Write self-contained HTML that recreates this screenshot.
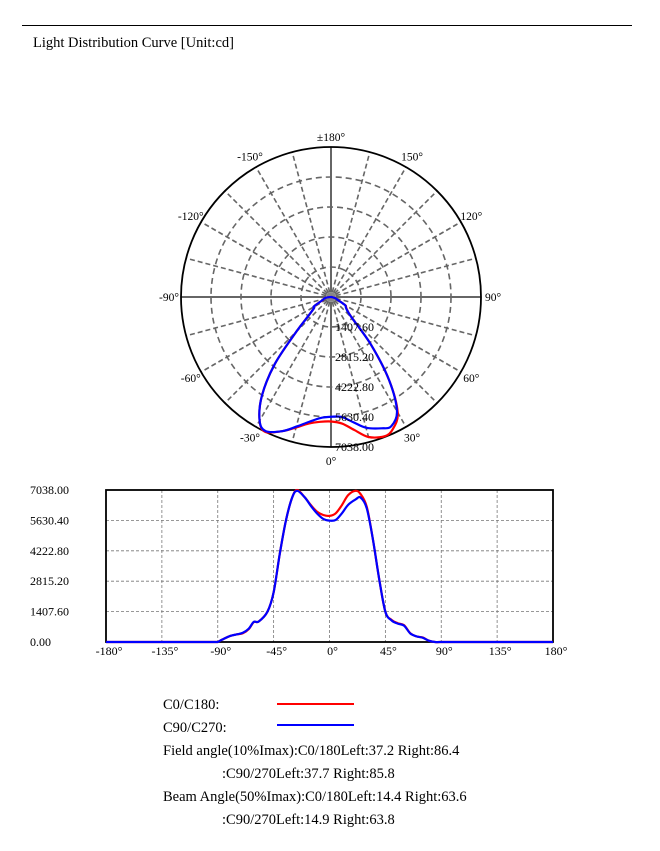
<!DOCTYPE html>
<html><head><meta charset="utf-8"><style>
body{margin:0;background:#fff;width:660px;height:846px;overflow:hidden;font-family:"Liberation Serif",serif;}
svg text{font-family:"Liberation Serif",serif;}
</style></head><body>
<svg id="s" width="660" height="846">
<line x1="22" y1="25.5" x2="632" y2="25.5" stroke="#000" stroke-width="1"/>
<text x="33" y="47" font-size="14.5">Light Distribution Curve [Unit:cd]</text>
<g id="polar"></g>
<g id="lin"></g>
<g font-size="14.5">
<text x="163" y="709">C0/C180:</text>
<line x1="277" y1="704" x2="354" y2="704" stroke="#f00" stroke-width="2"/>
<text x="163" y="732">C90/C270:</text>
<line x1="277" y1="725" x2="354" y2="725" stroke="#00f" stroke-width="2"/>
<text x="163" y="755">Field angle(10%Imax):C0/180Left:37.2 Right:86.4</text>
<text x="222" y="778">:C90/270Left:37.7 Right:85.8</text>
<text x="163" y="801">Beam Angle(50%Imax):C0/180Left:14.4 Right:63.6</text>
<text x="222" y="824">:C90/270Left:14.9 Right:63.8</text>
</g>
</svg>
<script>
const angles=[-90,-85,-80,-75,-70,-65,-61,-57,-50,-45,-40,-35,-30,-26,-20,-15,-10,-5,0,5,10,15,21,25,30,35,40,45,50,55,60,65,70,75,80,85,90];
const c0Values=[0,150,280,350,400,600,920,950,1400,2300,4100,5650,6700,7038,6700,6340,6030,5880,5840,5960,6340,6800,7000,6850,6260,4740,2920,1400,1020,870,780,410,260,210,60,0,0];
const c90Values=[0,150,280,350,420,620,930,950,1400,2300,4100,5650,6700,7000,6700,6300,5950,5700,5620,5650,5960,6350,6600,6690,6190,4740,2920,1400,1000,850,760,400,260,200,60,0,0];
const ringLabels=["1407.60","2815.20","4222.80","5630.40","7038.00"];
const yTickLabels=["0.00","1407.60","2815.20","4222.80","5630.40","7038.00"];
const xTickLabels=["-180°","-135°","-90°","-45°","0°","45°","90°","135°","180°"];
const angleLabels=[["±180°",180],["-150°",-150],["150°",150],["-120°",-120],["120°",120],["-90°",-90],["90°",90],["-60°",-60],["60°",60],["-30°",-30],["30°",30],["0°",0]];
const vmax=7038;
const NS="http://www.w3.org/2000/svg";
function mk(p,t,a){const e=document.createElementNS(NS,t);for(const k in a)e.setAttribute(k,a[k]);p.appendChild(e);return e;}
function spline(pts){let d="M"+pts[0][0].toFixed(2)+","+pts[0][1].toFixed(2);
for(let i=0;i<pts.length-1;i++){const p0=pts[Math.max(0,i-1)],p1=pts[i],p2=pts[i+1],p3=pts[Math.min(pts.length-1,i+2)];
const c1=[p1[0]+(p2[0]-p0[0])/6,p1[1]+(p2[1]-p0[1])/6],c2=[p2[0]-(p3[0]-p1[0])/6,p2[1]-(p3[1]-p1[1])/6];
d+="C"+c1.map(v=>v.toFixed(2))+" "+c2.map(v=>v.toFixed(2))+" "+p2[0].toFixed(2)+","+p2[1].toFixed(2);}return d;}
// polar
const P=document.getElementById('polar');const cx=331,cy=297,R=150;
function rOf(v){return v/vmax*R;}
function pxy(a,v){const t=a*Math.PI/180,r=rOf(v);return [cx+r*Math.sin(t),cy+r*Math.cos(t)];}
for(let a=0;a<360;a+=15){const t=a*Math.PI/180;const l=mk(P,'line',{x1:cx+5*Math.sin(t),y1:cy+5*Math.cos(t),x2:cx+R*Math.sin(t),y2:cy+R*Math.cos(t),stroke:'#666','stroke-width':a%90==0?2:1.6,'stroke-dasharray':a%90==0?'none':'5,3'});
}
for(let i=1;i<5;i++){const c=mk(P,'circle',{cx:cx,cy:cy,r:rOf(vmax*i/5),fill:'none',stroke:'#666','stroke-width':1.6,'stroke-dasharray':'6,4'});
}
mk(P,'circle',{cx:cx,cy:cy,r:5,fill:'#888'});
const oc=mk(P,'circle',{cx:cx,cy:cy,r:R,fill:'none',stroke:'#000','stroke-width':1.8});

function polarPath(vals,col,name){const pts=[[cx,cy]];angles.forEach((a,i)=>pts.push(pxy(a,vals[i])));pts.push([cx,cy]);
const p=mk(P,'path',{d:spline(pts),fill:'none',stroke:col,'stroke-width':2.2});}
polarPath(c0Values,'#f00','polar-c0-curve');polarPath(c90Values,'#00f','polar-c90-curve');
ringLabels.forEach((s,i)=>{const t=mk(P,'text',{x:cx+4,y:cy+rOf(vmax*(i+1)/5)+4,'font-size':12});t.textContent=s;
});
angleLabels.forEach(([s,a])=>{const t0=a*Math.PI/180,r=R+12;let x=cx+r*Math.sin(t0),y=cy+r*Math.cos(t0)+4;if(a==0)y+=2;if(Math.abs(a)==180)y=cy-R-6;
const t=mk(P,'text',{x:x,y:y,'font-size':11.5,'text-anchor':'middle'});t.textContent=s;});
// linear
const L=document.getElementById('lin');const x0=106,x1=553,y0=642,y1=490;
function X(a){return x0+(a+180)/360*(x1-x0);}function Y(v){return y0-v/vmax*(y0-y1);}
for(let i=1;i<8;i++){const g=mk(L,'line',{x1:X(-180+45*i),y1:y1,x2:X(-180+45*i),y2:y0,stroke:'#777','stroke-dasharray':'3,2','stroke-width':0.8});}
for(let i=1;i<5;i++){const g=mk(L,'line',{x1:x0,y1:Y(vmax*i/5),x2:x1,y2:Y(vmax*i/5),stroke:'#777','stroke-dasharray':'3,2','stroke-width':0.8});}
const bx=mk(L,'rect',{x:x0,y:y1,width:x1-x0,height:y0-y1,fill:'none',stroke:'#000','stroke-width':1.8});
yTickLabels.forEach((s,i)=>{const t=mk(L,'text',{x:30,y:Y(vmax*i/5)+4,'font-size':12});t.textContent=s;});
xTickLabels.forEach((s,i)=>{const t=mk(L,'text',{x:X(-180+45*i)+3,y:655,'font-size':12,'text-anchor':'middle'});t.textContent=s;});
function linPath(vals,col,name){const pts=[[X(-180),Y(0)]];angles.forEach((a,i)=>pts.push([X(a),Y(vals[i])]));pts.push([X(180),Y(0)]);
const p=mk(L,'path',{d:"M"+pts[0]+"L"+pts[1]+spline(pts.slice(1,-1)).replace(/^M[^C]*/,"")+"L"+pts[pts.length-1],fill:'none',stroke:col,'stroke-width':2.2});
}
linPath(c0Values,'#f00','linear-c0-curve');linPath(c90Values,'#00f','linear-c90-curve');
</script>
</body></html>
